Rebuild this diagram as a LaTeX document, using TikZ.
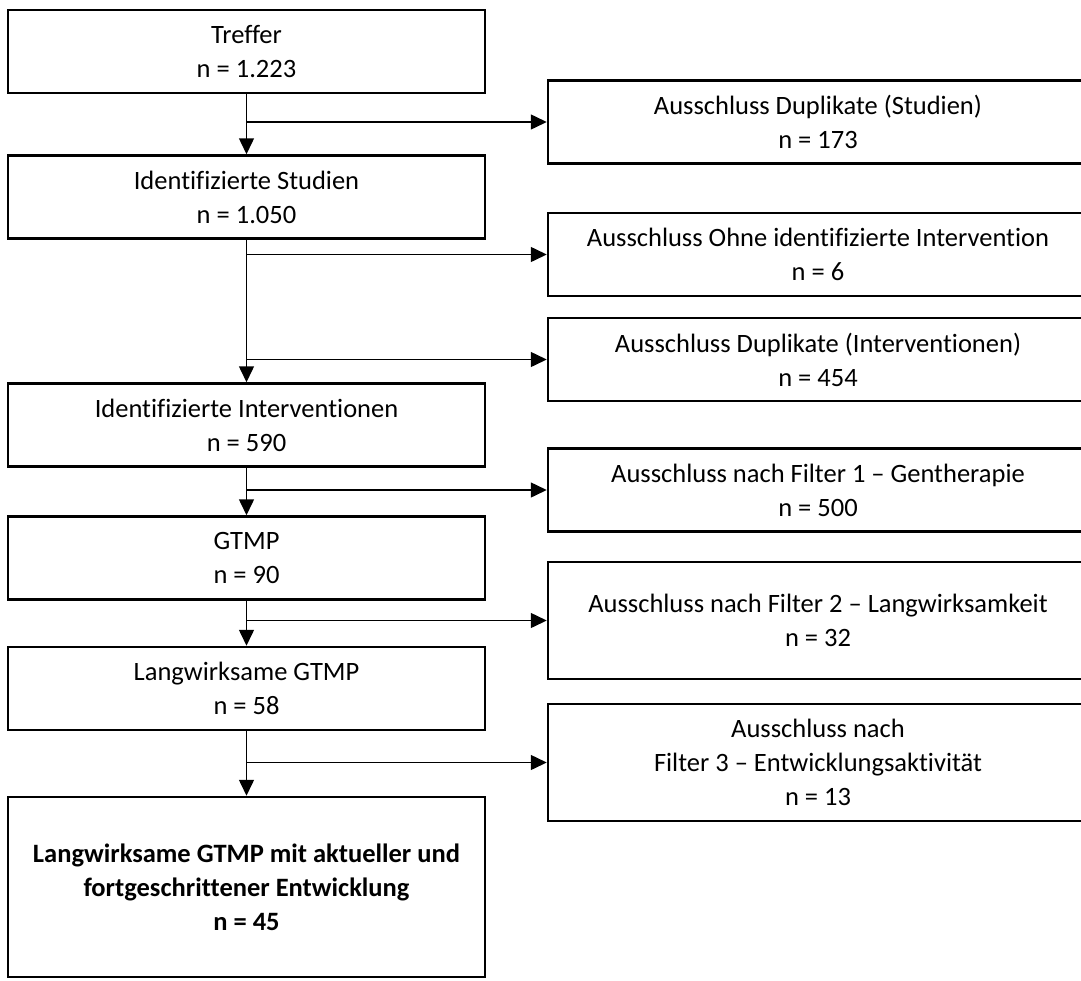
\documentclass[tikz,border=0pt]{standalone}
\usepackage{fontspec}
\setmainfont{Carlito}[Ligatures=NoCommon]
\usetikzlibrary{arrows.meta}
\tikzset{
	stage/.style={draw, line width=2.5pt, minimum width=477pt, minimum height=83pt,
		inner sep=0pt, align=center, font=\fontsize{26.5}{34}\selectfont},
	excl/.style={stage, minimum width=540pt},
	flow/.style={line width=1.5pt, -{Triangle[length=16pt,width=15pt]}},
}
\begin{document}
\begin{tikzpicture}[x=1pt,y=-1pt]
\useasboundingbox (0,0) rectangle (1081,980);
\node[stage] (treffer) at (246.5,51.5) {Treffer\\n = 1.223};
\node[stage] (studien) at (246.5,197) {Identifizierte Studien\\n = 1.050};
\node[stage] (interv) at (246.5,425) {Identifizierte Interventionen\\n = 590};
\node[stage] (gtmp) at (246.5,558) {GTMP\\n = 90};
\node[stage] (langw) at (246.5,688.5) {Langwirksame GTMP\\n = 58};
\node[stage, minimum height=180pt] (final) at (246.5,887)
	{\textbf{Langwirksame GTMP mit aktueller und}\\\textbf{fortgeschrittener Entwicklung}\\\textbf{n = 45}};
\node[excl] (dupstud) at (818,122) {Ausschluss Duplikate (Studien)\\n = 173};
\node[excl] (ohne) at (818,254.5) {Ausschluss Ohne identifizierte Intervention\\n = 6};
\node[excl] (dupint) at (818,359.5) {Ausschluss Duplikate (Interventionen)\\n = 454};
\node[excl] (filt1) at (818,490) {Ausschluss nach Filter 1 -- Gentherapie\\n = 500};
\node[excl, minimum height=117pt] (filt2) at (818,620.5) {Ausschluss nach Filter 2 -- Langwirksamkeit\\n = 32};
\node[excl, minimum height=117pt] (filt3) at (818,762.5) {Ausschluss nach\\Filter 3 -- Entwicklungsaktivität\\n = 13};
\draw[flow] (treffer) -- (studien);
\draw[flow] (studien) -- (interv);
\draw[flow] (interv) -- (gtmp);
\draw[flow] (gtmp) -- (langw);
\draw[flow] (langw) -- (final);
\draw[flow] (treffer.south |- dupstud) -- (dupstud);
\draw[flow] (studien.south |- ohne) -- (ohne);
\draw[flow] (studien.south |- dupint) -- (dupint);
\draw[flow] (interv.south |- filt1) -- (filt1);
\draw[flow] (gtmp.south |- filt2) -- (filt2);
\draw[flow] (langw.south |- filt3) -- (filt3);
\end{tikzpicture}
\end{document}
